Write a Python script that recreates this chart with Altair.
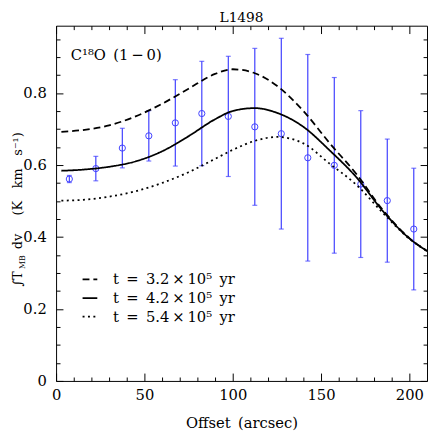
import altair as alt
import pandas as pd

# ---------------- data ----------------
offsets = [7.5, 22.5, 37.5, 52.5, 67.5, 82.5, 97.5, 112.5, 127.5, 142.5, 157.5, 172.5, 187.5, 202.5]
intensity = [0.561, 0.590, 0.647, 0.681, 0.717, 0.743, 0.735, 0.706, 0.687, 0.620, 0.599, 0.547, 0.501, 0.422]
errors = [0.010, 0.034, 0.055, 0.070, 0.120, 0.145, 0.167, 0.218, 0.265, 0.287, 0.244, 0.204, 0.171, 0.169]

model_x = [3, 15, 30, 45, 60, 75, 90, 100, 112.5, 125, 140, 155, 170, 185, 200, 210]
model_t32 = [0.692, 0.697, 0.710, 0.735, 0.770, 0.812, 0.853, 0.866, 0.855, 0.820, 0.750, 0.660, 0.575, 0.475, 0.397, 0.361]
model_t42 = [0.584, 0.587, 0.595, 0.610, 0.638, 0.680, 0.727, 0.750, 0.758, 0.745, 0.706, 0.640, 0.566, 0.472, 0.396, 0.361]
model_t54 = [0.501, 0.503, 0.512, 0.527, 0.550, 0.580, 0.617, 0.642, 0.667, 0.678, 0.660, 0.603, 0.545, 0.467, 0.395, 0.361]
model_labels = ["t\u2002=\u20023.2\u2009×\u200910⁵\u2002yr",
                "t\u2002=\u20024.2\u2009×\u200910⁵\u2002yr",
                "t\u2002=\u20025.4\u2009×\u200910⁵\u2002yr"]

x_major = [0, 50, 100, 150, 200]
x_minor = [10, 20, 30, 40, 60, 70, 80, 90, 110, 120, 130, 140, 160, 170, 180, 190]
y_major = [0, 0.2, 0.4, 0.6, 0.8]
y_minor = [0.05, 0.1, 0.15, 0.25, 0.3, 0.35, 0.45, 0.5, 0.55, 0.65, 0.7, 0.75, 0.85, 0.9, 0.95]

title_text = "L1498"
annot_text = "C¹⁸O\u2002(1\u2009−\u20090)"
x_title = "Offset\u2002(arcsec)"
ytitle_parts = ["∫T", "MB", "dv", "(K\u2003km\u2003s⁻¹)"]

# ---------------- tables ----------------
obs = pd.DataFrame({
    "offset": offsets,
    "value": intensity,
    "lo": [v - e for v, e in zip(intensity, errors)],
    "hi": [v + e for v, e in zip(intensity, errors)],
})
caps = pd.DataFrame({
    "offset": offsets + offsets,
    "cap": list(obs["lo"]) + list(obs["hi"]),
})
models = pd.DataFrame({
    "offset": model_x * 3,
    "value": model_t32 + model_t42 + model_t54,
    "model": [model_labels[0]] * len(model_x) + [model_labels[1]] * len(model_x) + [model_labels[2]] * len(model_x),
})

FONT = "DejaVu Serif"
BLUE = "#3f3fff"
W, H = 378, 362

xs = alt.Scale(domain=[0, 210], nice=False, zero=False)
ys = alt.Scale(domain=[0, 0.987], nice=False, zero=False)


def ax(orient, values, size, labels=False, **kw):
    return alt.Axis(orient=orient, values=values, tickSize=size, offset=-size,
                    domain=False, grid=False, labels=labels, ticks=True,
                    tickColor="black", tickWidth=1, labelFont=FONT,
                    labelFontSize=15, labelColor="black", labelFlush=False,
                    labelOverlap=False, **kw)


x_bottom = ax("bottom", x_major, 8, labels=True, title=x_title, labelPadding=7,
              titleFont=FONT, titleFontSize=15, titleFontWeight="normal",
              titleColor="black", titlePadding=13)
x_bottom_minor = ax("bottom", x_minor, 4, title=None)
x_top = ax("top", x_major, 8, title=None)
x_top_minor = ax("top", x_minor, 4, title=None)

y_left = ax("left", y_major, 7, labels=True, title=None, labelPadding=10,
            labelExpr="datum.value == 0 ? '0' : format(datum.value, '.1f')")
y_left_minor = ax("left", y_minor, 4, title=None)
y_right = ax("right", y_major, 7, title=None)
y_right_minor = ax("right", y_minor, 4, title=None)

rules = alt.Chart(obs).mark_rule(color=BLUE, strokeWidth=1.2).encode(
    x=alt.X("offset:Q", scale=xs, axis=x_bottom),
    y=alt.Y("lo:Q", scale=ys, axis=y_left),
    y2="hi:Q",
)

cap_marks = alt.Chart(caps).mark_tick(color=BLUE, orient="horizontal", size=5, thickness=1.2).encode(
    x=alt.X("offset:Q", scale=xs, axis=x_bottom_minor),
    y=alt.Y("cap:Q", scale=ys, axis=y_left_minor),
)

points = alt.Chart(obs).mark_point(shape="circle", filled=False, size=40, strokeWidth=1,
                                   color=BLUE, opacity=1).encode(
    x=alt.X("offset:Q", scale=xs, axis=x_top),
    y=alt.Y("value:Q", scale=ys, axis=y_right),
)

lines = alt.Chart(models).mark_line(color="black", strokeWidth=1.8, interpolate="monotone").encode(
    x=alt.X("offset:Q", scale=xs, axis=x_top_minor),
    y=alt.Y("value:Q", scale=ys, axis=y_right_minor),
    strokeDash=alt.StrokeDash(
        "model:N",
        scale=alt.Scale(domain=model_labels, range=[[7, 4], [1, 0], [2, 3.5]]),
        legend=alt.Legend(title=None, orient="none", legendX=26, legendY=250,
                          symbolType="stroke", symbolSize=225, symbolStrokeWidth=1.8,
                          symbolStrokeColor="black", labelFont=FONT, labelFontSize=15,
                          labelColor="black", labelOffset=15, rowPadding=2, padding=0),
    ),
    order="offset:Q",
)

annot = alt.Chart(pd.DataFrame({"t": [annot_text]})).mark_text(
    font=FONT, fontSize=15, align="left", baseline="alphabetic", color="black"
).encode(text="t:N", x=alt.value(15), y=alt.value(35))

title_mark = alt.Chart(pd.DataFrame({"t": [title_text]})).mark_text(
    font=FONT, fontSize=14, align="center", baseline="alphabetic", color="black"
).encode(text="t:N", x=alt.value(W / 2), y=alt.value(-4))


def ytext(part, ypos, xpos, size):
    return alt.Chart(pd.DataFrame({"t": [part]})).mark_text(
        font=FONT, fontSize=size, align="center", baseline="alphabetic", angle=270, color="black"
    ).encode(text="t:N", x=alt.value(xpos), y=alt.value(ypos))


ytitle = [
    ytext(ytitle_parts[0], 280 - 22, -35, 13),
    ytext(ytitle_parts[1], 263 - 22, -32, 8),
    ytext(ytitle_parts[2], 242 - 22, -35, 13),
    ytext(ytitle_parts[3], 173 - 22, -35, 13),
]

chart = alt.layer(rules, cap_marks, points, lines, annot, title_mark, *ytitle).resolve_axis(
    x="independent", y="independent"
).properties(
    width=W, height=H,
    padding={"left": 49, "top": 14, "right": 1, "bottom": 48},
    autosize=alt.AutoSizeParams(type="none"),
).configure_view(stroke="black", strokeWidth=1)

chart.save("out.html", embed_options={"renderer": "svg", "actions": False})
